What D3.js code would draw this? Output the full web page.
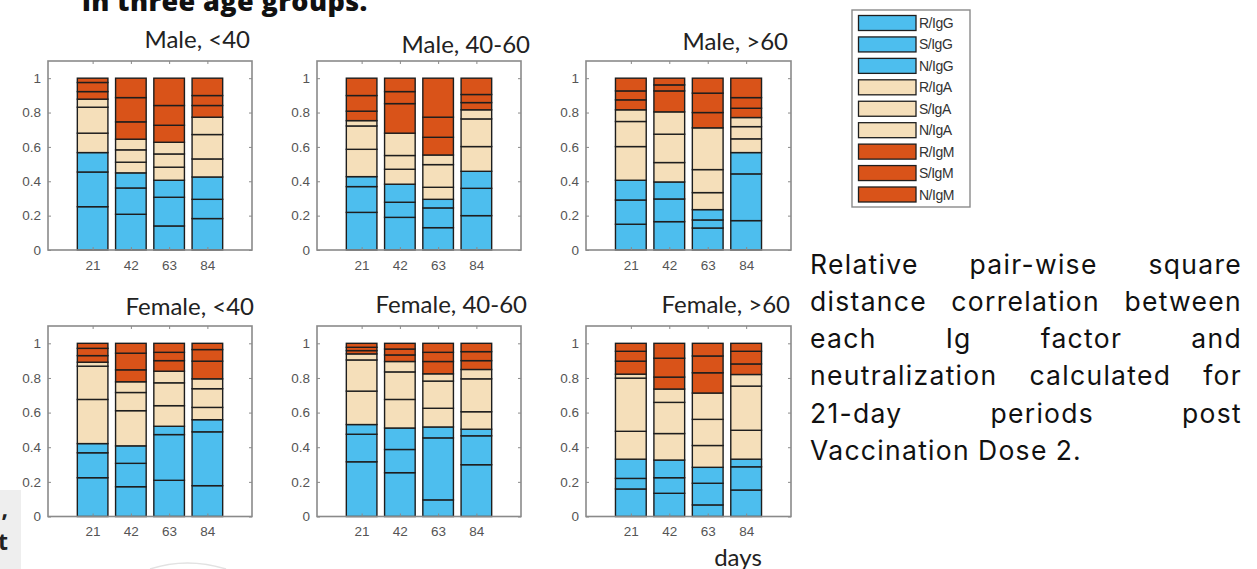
<!DOCTYPE html>
<html><head><meta charset="utf-8">
<script src="https://cdn.jsdelivr.net/npm/d3@7"></script>
<style>body{margin:0;background:#fff;} svg{display:block}</style>
</head><body>
<svg id="c" width="1257" height="569"></svg>
<script>
// ---------- data ----------
const days = [21, 42, 63, 84];
const seriesNames = ["R/IgG","S/IgG","N/IgG","R/IgA","S/IgA","N/IgA","R/IgM","S/IgM","N/IgM"];
const yTicks = [0, 0.2, 0.4, 0.6, 0.8, 1];
const yTickLabels = ["0", "0.2", "0.4", "0.6", "0.8", "1"];
const panelTitles = ["Male, <40", "Male, 40-60", "Male, >60", "Female, <40", "Female, 40-60", "Female, >60"];

// segment shares per day (21, 42, 63, 84), in series order
const maleUnder40 = [
  [0.252, 0.202, 0.113, 0.113, 0.151, 0.047, 0.044, 0.053, 0.025],
  [0.208, 0.153, 0.088, 0.062, 0.072, 0.062, 0.101, 0.141, 0.113],
  [0.140, 0.167, 0.099, 0.076, 0.077, 0.068, 0.099, 0.115, 0.159],
  [0.183, 0.112, 0.130, 0.105, 0.142, 0.101, 0.068, 0.058, 0.101]
];
const male40to60 = [
  [0.219, 0.150, 0.058, 0.159, 0.136, 0.031, 0.055, 0.091, 0.101],
  [0.190, 0.088, 0.105, 0.087, 0.080, 0.130, 0.172, 0.070, 0.078],
  [0.130, 0.115, 0.050, 0.070, 0.132, 0.056, 0.103, 0.117, 0.227],
  [0.200, 0.159, 0.099, 0.144, 0.161, 0.053, 0.042, 0.047, 0.095]
];
const maleOver60 = [
  [0.150, 0.141, 0.115, 0.196, 0.146, 0.068, 0.058, 0.052, 0.074],
  [0.165, 0.132, 0.099, 0.113, 0.165, 0.130, 0.122, 0.035, 0.039],
  [0.128, 0.047, 0.060, 0.099, 0.134, 0.243, 0.089, 0.113, 0.087],
  [0.171, 0.272, 0.124, 0.080, 0.071, 0.053, 0.054, 0.062, 0.113]
];
const femaleUnder40 = [
  [0.224, 0.144, 0.053, 0.255, 0.192, 0.023, 0.038, 0.042, 0.029],
  [0.172, 0.135, 0.101, 0.203, 0.105, 0.062, 0.069, 0.096, 0.057],
  [0.209, 0.264, 0.048, 0.119, 0.132, 0.067, 0.061, 0.048, 0.052],
  [0.178, 0.311, 0.070, 0.071, 0.108, 0.057, 0.102, 0.067, 0.036]
];
const female40to60 = [
  [0.316, 0.159, 0.056, 0.193, 0.180, 0.035, 0.019, 0.019, 0.023],
  [0.253, 0.134, 0.124, 0.165, 0.159, 0.060, 0.038, 0.034, 0.033],
  [0.096, 0.358, 0.063, 0.108, 0.157, 0.042, 0.071, 0.053, 0.052],
  [0.299, 0.167, 0.038, 0.101, 0.190, 0.054, 0.051, 0.052, 0.048]
];
const femaleOver60 = [
  [0.159, 0.061, 0.111, 0.161, 0.307, 0.023, 0.075, 0.057, 0.046],
  [0.134, 0.090, 0.102, 0.153, 0.180, 0.077, 0.069, 0.109, 0.086],
  [0.067, 0.125, 0.092, 0.126, 0.151, 0.152, 0.117, 0.097, 0.073],
  [0.153, 0.134, 0.044, 0.167, 0.255, 0.067, 0.061, 0.073, 0.046]
];
const panelData = [maleUnder40, male40to60, maleOver60, femaleUnder40, female40to60, femaleOver60];

const headingText = "in three age groups.";
const captionLines = [
  "Relative pair-wise square",
  "distance correlation between",
  "each Ig factor and",
  "neutralization calculated for",
  "21-day periods post",
  "Vaccination Dose 2."
];
const xAxisLabel = "days";

// ---------- styling / layout ----------
const seriesColors = ["#4DBEEE","#4DBEEE","#4DBEEE","#F5DFBA","#F5DFBA","#F5DFBA","#D95319","#D95319","#D95319"];
const color = d3.scaleOrdinal().domain(seriesNames).range(seriesColors);

const panelBoxes = [
  {x0: 48,  x1: 252, y0: 61,  y1: 250, tx: 250, ty: 48},
  {x0: 317, x1: 521, y0: 61,  y1: 250, tx: 530, ty: 53},
  {x0: 586, x1: 791, y0: 61,  y1: 250, tx: 788, ty: 50},
  {x0: 48,  x1: 252, y0: 326, y1: 516.5, tx: 254, ty: 315},
  {x0: 317, x1: 521, y0: 326, y1: 516.5, tx: 527, ty: 313},
  {x0: 586, x1: 791, y0: 326, y1: 516.5, tx: 790, ty: 313}
];

const svg = d3.select("#c");
svg.append("rect").attr("width", 1257).attr("height", 569).attr("fill", "#fff");

const titleFont = "Lato, 'Open Sans', sans-serif";
const tickFont = "'Liberation Sans', Arial, sans-serif";

panelData.forEach((values, pi) => {
  const b = panelBoxes[pi];
  const x = d3.scaleLinear().domain([-3.5, 108.5]).range([b.x0, b.x1]);
  const y = d3.scaleLinear().domain([0, 1.1]).range([b.y1, b.y0]);
  const bw = x(21 * 0.8) - x(0);

  const rows = days.map((d, i) => {
    const r = {day: d};
    seriesNames.forEach((s, j) => r[s] = values[i][j]);
    return r;
  });
  const stacked = d3.stack().keys(seriesNames)(rows);

  const g = svg.append("g");
  g.append("rect").attr("x", b.x0).attr("y", b.y0).attr("width", b.x1 - b.x0).attr("height", b.y1 - b.y0)
    .attr("fill", "#fff");

  stacked.forEach(layer => {
    g.append("g").selectAll("rect").data(layer).join("rect")
      .attr("x", d => x(d.data.day) - bw / 2)
      .attr("width", bw)
      .attr("y", d => y(d[1]))
      .attr("height", d => y(d[0]) - y(d[1]))
      .attr("fill", color(layer.key))
      .attr("stroke", "#1e1e1e")
      .attr("stroke-width", 1.4);
  });

  const axL = d3.axisLeft(y).tickValues(yTicks).tickFormat((d, i) => yTickLabels[i]).tickSize(-3).tickPadding(7);
  const axR = d3.axisRight(y).tickValues(yTicks).tickFormat("").tickSize(-3);
  const axB = d3.axisBottom(x).tickValues(days).tickFormat(d3.format("d")).tickSize(-3).tickPadding(10);
  const axT = d3.axisTop(x).tickValues(days).tickFormat("").tickSize(-3);

  const styleAxis = sel => {
    sel.select(".domain").remove();
    sel.selectAll(".tick line").attr("stroke", "#8a8a8a").attr("stroke-width", 1);
    sel.selectAll(".tick text").attr("fill", "#555").style("font-family", tickFont).style("font-size", "13.5px");
  };
  g.append("g").attr("transform", `translate(${b.x0},0)`).call(axL).call(styleAxis);
  g.append("g").attr("transform", `translate(${b.x1},0)`).call(axR).call(styleAxis);
  g.append("g").attr("transform", `translate(0,${b.y1})`).call(axB).call(styleAxis);
  g.append("g").attr("transform", `translate(0,${b.y0})`).call(axT).call(styleAxis);

  g.append("rect").attr("x", b.x0).attr("y", b.y0).attr("width", b.x1 - b.x0).attr("height", b.y1 - b.y0)
    .attr("fill", "none").attr("stroke", "#8a8a8a").attr("stroke-width", 1.6);

  g.append("text").attr("x", b.tx).attr("y", b.ty).attr("text-anchor", "end")
    .style("font-family", titleFont).style("font-size", "24px").attr("fill", "#222")
    .text(panelTitles[pi]);
});

// x-axis label (cut by the bottom edge, as in the source)
svg.append("text").attr("x", 738).attr("y", 566).attr("text-anchor", "middle")
  .style("font-family", titleFont).style("font-size", "24px").attr("fill", "#222").text(xAxisLabel);

// ---------- legend ----------
const leg = svg.append("g");
leg.append("rect").attr("x", 852).attr("y", 10).attr("width", 118).attr("height", 197)
  .attr("fill", "#fff").attr("stroke", "#8a8a8a").attr("stroke-width", 1.4);
const legY = d3.scalePoint().domain(seriesNames).range([23, 194.5]);
seriesNames.forEach(s => {
  leg.append("rect").attr("x", 858.5).attr("y", legY(s) - 7.5).attr("width", 57.5).attr("height", 15)
    .attr("fill", color(s)).attr("stroke", "#1e1e1e").attr("stroke-width", 1.3);
  leg.append("text").attr("x", 919).attr("y", legY(s)).attr("dy", "0.36em")
    .style("font-family", tickFont).style("font-size", "14px").style("letter-spacing", "-0.5px")
    .attr("fill", "#333").text(s);
});

// ---------- heading fragment ----------
svg.append("text").attr("x", 82).attr("y", 11)
  .style("font-family", "'Open Sans', sans-serif").style("font-weight", 800).style("font-size", "27px")
  .style("letter-spacing", "0.4px")
  .attr("fill", "#111").text(headingText);

// left cut-off fragments
svg.append("rect").attr("x", 0).attr("y", 490).attr("width", 21).attr("height", 79).attr("fill", "#eeeeee");
svg.append("text").attr("x", 8).attr("y", 517).attr("text-anchor", "end")
  .style("font-family", "'Open Sans', sans-serif").style("font-weight", 700).style("font-size", "23px")
  .attr("fill", "#222").text(",");
svg.append("text").attr("x", 8).attr("y", 550).attr("text-anchor", "end")
  .style("font-family", "'Open Sans', sans-serif").style("font-weight", 700).style("font-size", "23px")
  .attr("fill", "#222").text("t");
svg.append("path").attr("d", "M150,569 Q187,557 226,569").attr("fill", "none")
  .attr("stroke", "#e2e2e2").attr("stroke-width", 1.5);

// ---------- caption (justified) ----------
const capX0 = 810, capX1 = 1242, capY0 = 273.5, capDy = 37.3;
const capFont = "Inter, 'Noto Sans', sans-serif";
captionLines.forEach((line, li) => {
  const words = line.split(" ");
  const yy = capY0 + li * capDy;
  const nodes = words.map(w => svg.append("text").attr("y", yy)
    .style("font-family", capFont).style("font-size", "26.5px").style("letter-spacing", "1.3px")
    .attr("fill", "#111").text(w));
  const widths = nodes.map(n => n.node().getComputedTextLength());
  const total = d3.sum(widths);
  const last = li === captionLines.length - 1;
  const gap = (last || words.length < 2) ? 8 : (capX1 - capX0 - total) / (words.length - 1);
  let cx = capX0;
  nodes.forEach((n, i) => { n.attr("x", cx); cx += widths[i] + gap; });
});
</script>
</body></html>
